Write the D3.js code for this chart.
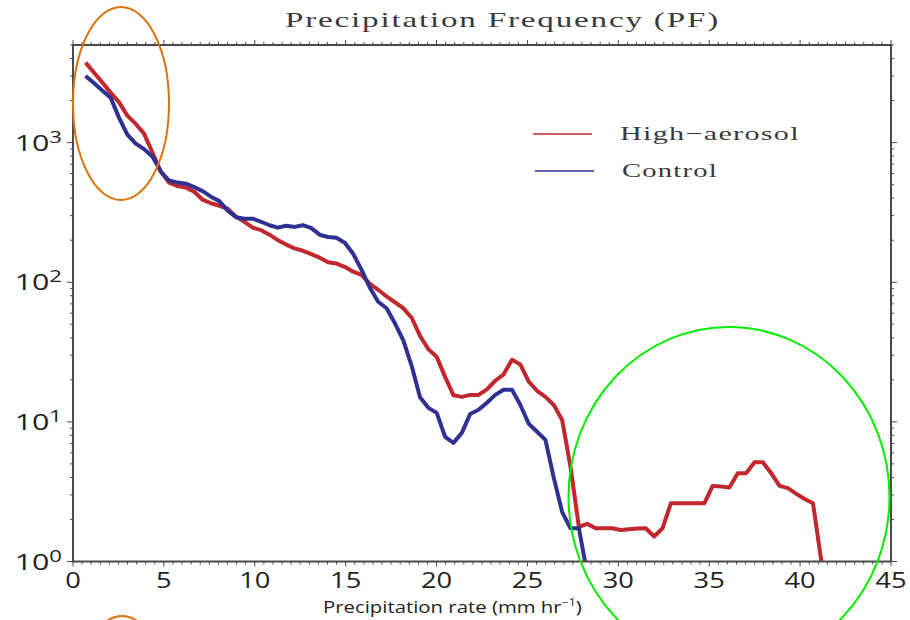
<!DOCTYPE html>
<html>
<head>
<meta charset="utf-8">
<script src="https://cdn.jsdelivr.net/npm/d3@7/dist/d3.min.js"></script>
<style>
  html, body { margin: 0; padding: 0; background: #fff; }
  svg { display: block; }
</style>
</head>
<body>
<svg id="chart" width="910" height="620"></svg>
<script>
// Bin centres of precipitation rate (mm hr^-1)
const rate = [
  0.69, 1.15, 1.61, 2.07, 2.53, 2.99, 3.45, 3.91, 4.37, 4.83,
  5.29, 5.75, 6.21, 6.67, 7.13, 7.59, 8.05, 8.51, 8.97, 9.43,
  9.89, 10.35, 10.81, 11.27, 11.73, 12.19, 12.65, 13.11, 13.57, 14.03,
  14.49, 14.95, 15.41, 15.87, 16.33, 16.79, 17.25, 17.71, 18.17, 18.63,
  19.09, 19.55, 20.01, 20.47, 20.93, 21.39, 21.85, 22.31, 22.77, 23.23,
  23.69, 24.15, 24.61, 25.07, 25.53, 25.99, 26.45, 26.91, 27.37, 27.83,
  28.29, 28.75, 29.21, 29.67, 30.13, 30.59, 31.05, 31.51, 31.97, 32.43,
  32.89, 33.35, 33.81, 34.27, 34.73, 35.19, 35.65, 36.11, 36.57, 37.03,
  37.49, 37.95, 38.41, 38.87, 39.33, 39.79, 40.25, 40.71, 41.17
];

// Frequency counts, high-aerosol run
const highAerosol = [
  3740, 3180, 2700, 2280, 1950, 1560, 1360, 1160, 850, 620,
  516, 488, 476, 445, 390, 368, 353, 336, 295, 271,
  246, 236, 219, 200, 186, 175, 168, 159, 150, 139,
  136, 129, 119, 113, 97.5, 88.3, 79.1, 71.9, 65.2, 55.7,
  41.3, 33.1, 29.2, 21.0, 15.5, 15.1, 15.6, 15.6, 17.1, 19.7,
  21.9, 27.8, 25.8, 19.4, 16.7, 15.1, 13.2, 10.3, 4.76, 1.77,
  1.86, 1.73, 1.73, 1.73, 1.68, 1.70, 1.72, 1.73, 1.51, 1.73,
  2.61, 2.61, 2.61, 2.61, 2.61, 3.48, 3.45, 3.39, 4.29, 4.29,
  5.14, 5.14, 4.29, 3.48, 3.35, 3.05, 2.80, 2.61, 1.0
];

// Frequency counts, control run
const control = [
  3000, 2670, 2360, 2100, 1510, 1140, 984, 898, 794, 620,
  535, 517, 508, 480, 449, 410, 381, 326, 292, 285,
  285, 271, 256, 246, 254, 249, 256, 244, 219, 211,
  208, 192, 160, 123, 91.3, 72.5, 65.1, 50.8, 38.4, 25.2,
  15.0, 12.6, 11.6, 7.8, 7.07, 8.34, 11.4, 12.2, 13.7, 15.6,
  17.0, 17.0, 13.2, 9.7, 8.5, 7.43, 3.97, 2.26, 1.73, 1.73,
  0.82
];

const xTickValues = [0, 5, 10, 15, 20, 25, 30, 35, 40, 45];
const yTickExponents = [0, 1, 2, 3];
const seriesNames = ["High\u2212aerosol", "Control"];
const seriesColors = ["#c1272d", "#2e3192"];
const titleText = "Precipitation Frequency (PF)";

const svg = d3.select("#chart");
const box = { left: 73, right: 891, top: 45, bottom: 561.5 };

const x = d3.scaleLinear().domain([0, 45]).range([box.left, box.right]);
const y = d3.scaleLog().domain([1, 5000]).range([box.bottom, box.top]);

// Stretch a text element horizontally so that it spans a given width
function stretch(sel, width, ax, baseline, anchor) {
  const w = sel.node().getBBox().width || width;
  const k = width / w;
  sel.attr("text-anchor", anchor)
     .attr("transform", `translate(${ax},${baseline}) scale(${k},1)`);
}

// Clip for the data lines
svg.append("defs").append("clipPath").attr("id", "plotClip")
  .append("rect")
  .attr("x", box.left).attr("y", box.top)
  .attr("width", box.right - box.left).attr("height", box.bottom - box.top);

// Data lines
const line = d3.line()
  .x(d => x(d[0]))
  .y(d => y(d[1]));

const series = [
  rate.map((r, i) => [r, highAerosol[i]]),
  rate.slice(0, control.length).map((r, i) => [r, control[i]])
];

const lines = svg.append("g").attr("clip-path", "url(#plotClip)");
series.forEach((s, k) => {
  lines.append("path")
    .datum(s)
    .attr("d", line)
    .attr("fill", "none")
    .attr("stroke", seriesColors[k])
    .attr("stroke-width", 4)
    .attr("stroke-linejoin", "round")
    .attr("stroke-linecap", "butt");
});

// Frame and ticks
const axisColor = "#4a4a4a";
const frame = svg.append("g").attr("stroke", axisColor).attr("fill", "none");
frame.append("rect")
  .attr("x", box.left).attr("y", box.top)
  .attr("width", box.right - box.left).attr("height", box.bottom - box.top)
  .attr("stroke-width", 2);

const xMinor = d3.range(0, 45.001, 0.5);
xMinor.forEach(v => {
  const major = Math.abs(v % 5) < 1e-6;
  const len = major ? 5 : 3;
  frame.append("line").attr("x1", x(v)).attr("x2", x(v))
    .attr("y1", box.bottom).attr("y2", box.bottom + len).attr("stroke-width", 1);
  frame.append("line").attr("x1", x(v)).attr("x2", x(v))
    .attr("y1", box.top).attr("y2", box.top - len).attr("stroke-width", 1);
});

const yMinor = [];
[1, 10, 100, 1000].forEach(d => {
  for (let m = 1; m <= 9; m++) if (d * m <= 5000) yMinor.push([d * m, m === 1]);
});
yMinor.forEach(([v, major]) => {
  const len = major ? 6 : 3;
  frame.append("line").attr("x1", box.left).attr("x2", box.left - len)
    .attr("y1", y(v)).attr("y2", y(v)).attr("stroke-width", 1);
  frame.append("line").attr("x1", box.right).attr("x2", box.right + len)
    .attr("y1", y(v)).attr("y2", y(v)).attr("stroke-width", 1);
});

// Tick labels
const labelFont = "'Open Sans', 'DejaVu Sans', sans-serif";
const labels = svg.append("g").attr("fill", "#222").attr("font-family", labelFont);

xTickValues.forEach(v => {
  labels.append("text").attr("font-size", 21).text(v)
    .attr("text-anchor", "middle")
    .attr("transform", `translate(${x(v)},${588}) scale(1.3,1)`);
});

yTickExponents.forEach(e => {
  const t = labels.append("text").attr("font-size", 22).attr("text-anchor", "end");
  t.append("tspan").text("10");
  t.append("tspan").attr("font-size", 16).attr("dy", -8).text(e);
  t.attr("transform", `translate(${62},${y(Math.pow(10, e)) + 8}) scale(1.38,1)`);
});

// Axis title
const xTitle = labels.append("text").attr("font-size", 16.5);
xTitle.append("tspan").text("Precipitation rate (mm hr");
xTitle.append("tspan").attr("font-size", 10).attr("dy", -7).text("\u22121");
xTitle.append("tspan").attr("dy", 7).text(")");
stretch(xTitle, 259, 323, 613, "start");

// Chart title
const title = svg.append("text")
  .attr("font-family", "'Liberation Serif', 'DejaVu Serif', serif")
  .attr("font-size", 22)
  .attr("letter-spacing", 1.2)
  .attr("fill", "#3a3a3a")
  .text(titleText);
stretch(title, 435, 285, 27, "start");

// Legend
const legendRows = [
  { y: 134, x1: 533, x2: 592, tx: 620, tw: 180 },
  { y: 171, x1: 535, x2: 594, tx: 622, tw: 96 }
];
legendRows.forEach((r, k) => {
  svg.append("line")
    .attr("x1", r.x1).attr("x2", r.x2).attr("y1", r.y).attr("y2", r.y)
    .attr("stroke", seriesColors[k]).attr("stroke-width", 2).attr("opacity", 0.75);
  const t = svg.append("text")
    .attr("font-family", "'Liberation Serif', 'DejaVu Serif', serif")
    .attr("font-size", 19)
    .attr("letter-spacing", 0.8)
    .attr("fill", "#3a3a3a")
    .text(seriesNames[k]);
  stretch(t, r.tw, r.tx, r.y + 6, "start");
});

// Highlight rings
const rings = svg.append("g").attr("fill", "none").attr("stroke-width", 2);
rings.append("ellipse").attr("cx", 121).attr("cy", 103.5).attr("rx", 48).attr("ry", 96.5)
  .attr("stroke", "#d9740e");
rings.append("ellipse").attr("cx", 122).attr("cy", 712).attr("rx", 48).attr("ry", 96)
  .attr("stroke", "#d9740e");
rings.append("ellipse").attr("cx", 729).attr("cy", 497).attr("rx", 160.5).attr("ry", 170)
  .attr("stroke", "#00ee00");
</script>
</body>
</html>
